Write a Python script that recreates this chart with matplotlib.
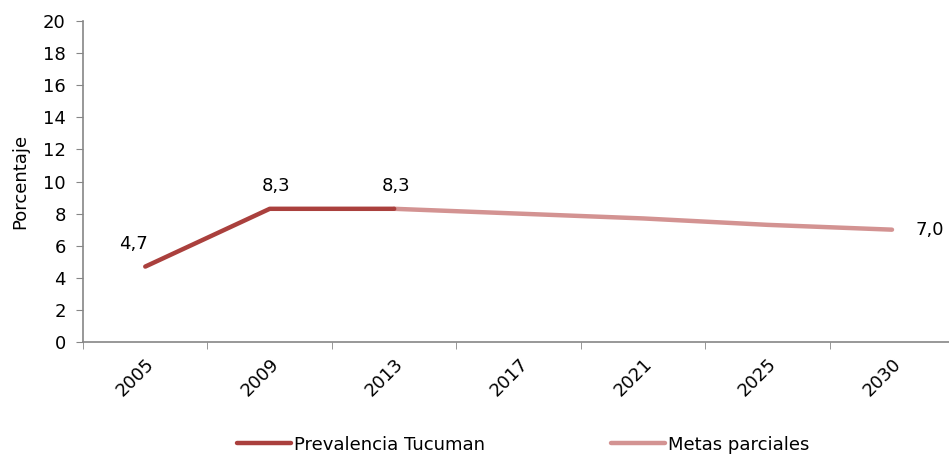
import matplotlib
matplotlib.use('Agg')
import matplotlib.pyplot as plt

plt.rcParams['font.family'] = ['DejaVu Sans']

# datos
years = ['2005', '2009', '2013', '2017', '2021', '2025', '2030']
prevalencia = [4.7, 8.3, 8.3]
metas_idx = [2, 3, 4, 5, 6]
metas = [8.3, 8.0, 7.7, 7.3, 7.0]
etiquetas = {0: '4,7', 1: '8,3', 2: '8,3', 6: '7,0'}

col_prev = '#AA403D'
col_meta = '#D39392'
gris = '#868686'

fig = plt.figure(figsize=(9.49, 4.63), dpi=100)
ax = fig.add_axes([0.0875, 0.2613, 0.918, 0.6933])

x = list(range(len(years)))
ax.plot(metas_idx, metas, color=col_meta, lw=3.2, solid_capstyle='round',
        label='Metas parciales', zorder=2)
ax.plot(x[:3], prevalencia, color=col_prev, lw=3.2, solid_capstyle='round',
        label='Prevalencia Tucuman', zorder=3)

# etiquetas de datos
offsets = {0: (-12, 23), 1: (6, 23), 2: (2, 23), 6: (38, 0)}
for i, txt in etiquetas.items():
    yv = prevalencia[i] if i < 3 else metas[metas_idx.index(i)]
    ax.annotate(txt, (i, yv), xytext=offsets[i], textcoords='offset pixels',
                ha='center', va='center', fontsize=13)

ax.set_xlim(-0.5, len(years) - 0.5)
ax.set_ylim(0, 20)
ax.set_yticks(range(0, 21, 2))
ax.set_xticks(x)
ax.set_xticklabels(years, rotation=45, ha='right', va='top', rotation_mode='anchor')
ax.set_xticks([i - 0.5 for i in range(len(years) + 1)], minor=True)
ax.tick_params(axis='x', which='major', length=0, pad=9, labelsize=13)
ax.tick_params(axis='x', which='minor', length=5, color=gris, direction='out')
ax.tick_params(axis='y', length=5, color=gris, labelsize=13, pad=7.5)
ax.set_ylabel('Porcentaje', fontsize=13, labelpad=10)

for s in ['top', 'right']:
    ax.spines[s].set_visible(False)
for s in ['left', 'bottom']:
    ax.spines[s].set_color(gris)
    ax.spines[s].set_linewidth(1.2)

h, l = ax.get_legend_handles_labels()
fig.legend(h[::-1], l[::-1], loc='lower center', bbox_to_anchor=(0.551, -0.015), ncol=2,
           frameon=False, fontsize=13, handlelength=3.0, handletextpad=0.15,
           columnspacing=7.0)

fig.savefig('out.png', dpi=100)
